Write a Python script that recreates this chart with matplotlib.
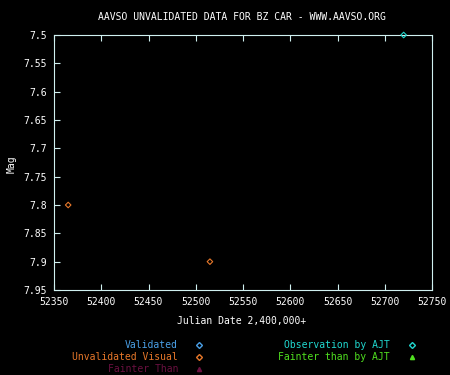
import matplotlib
matplotlib.use("Agg")
import matplotlib.pyplot as plt

unval_jd = [52365, 52515]
unval_mag = [7.8, 7.9]
ajt_jd = [52720]
ajt_mag = [7.5]

xticks = [52350, 52400, 52450, 52500, 52550, 52600, 52650, 52700, 52750]
yticks = [7.5, 7.55, 7.6, 7.65, 7.7, 7.75, 7.8, 7.85, 7.9, 7.95]

legend_left = ["Validated", "Unvalidated Visual", "Fainter Than"]
legend_left_colors = ["#4aa0e8", "#e8782a", "#6a1040"]
legend_left_markers = ["D", "D", "^"]
legend_right = ["Observation by AJT", "Fainter than by AJT"]
legend_right_colors = ["#20d8d0", "#50e020"]
legend_right_markers = ["D", "^"]

axis_col = "#d0f0f0"
font = "DejaVu Sans Mono"
fs = 7

fig = plt.figure(figsize=(4.5, 3.75), dpi=100, facecolor="black")
ax = fig.add_axes([54/450, 1-290/375, (432-54)/450, (290-35)/375])
ax.set_facecolor("black")

ax.scatter(unval_jd, unval_mag, marker="D", s=8, facecolors="none",
           edgecolors="#e8782a", linewidths=0.8)
ax.scatter(ajt_jd, ajt_mag, marker="D", s=8, facecolors="none",
           edgecolors="#20d8d0", linewidths=0.8, clip_on=False, zorder=5)

ax.set_xlim(52350, 52750)
ax.set_ylim(7.95, 7.5)
ax.set_xticks(xticks)
ax.set_yticks(yticks)
ax.set_xticklabels([str(t) for t in xticks], family=font, fontsize=fs, color="white")
ax.set_yticklabels(["%g" % t for t in yticks], family=font, fontsize=fs, color="white")
ax.tick_params(axis="both", direction="in", color=axis_col, length=4, width=0.8, pad=5)
ax.tick_params(axis="x", top=True)
for s in ax.spines.values():
    s.set_color(axis_col)
    s.set_linewidth(0.8)

fig.text(242/450, 1-17/375, "AAVSO UNVALIDATED DATA FOR BZ CAR - WWW.AAVSO.ORG",
         family=font, fontsize=fs, color="white", ha="center", va="center")
fig.text(12/450, 1-164/375, "Mag", family=font, fontsize=fs, color="white",
         rotation=90, ha="center", va="center")
fig.text(242/450, 1-321/375, "Julian Date 2,400,000+", family=font, fontsize=fs,
         color="white", ha="center", va="center")

rows = [345, 357, 369]
for i, lab in enumerate(legend_left):
    y = 1 - rows[i]/375
    fig.text(178/450, y, lab, family=font, fontsize=fs, color=legend_left_colors[i],
             ha="right", va="center")
    filled = legend_left_markers[i] == "^"
    fig.lines.append(plt.Line2D([199/450], [y], marker=legend_left_markers[i], markersize=3,
                                markerfacecolor=legend_left_colors[i] if filled else "none",
                                markeredgecolor=legend_left_colors[i],
                                transform=fig.transFigure))
for i, lab in enumerate(legend_right):
    y = 1 - rows[i]/375
    fig.text(390/450, y, lab, family=font, fontsize=fs, color=legend_right_colors[i],
             ha="right", va="center")
    filled = legend_right_markers[i] == "^"
    fig.lines.append(plt.Line2D([412/450], [y], marker=legend_right_markers[i], markersize=3,
                                markerfacecolor=legend_right_colors[i] if filled else "none",
                                markeredgecolor=legend_right_colors[i],
                                transform=fig.transFigure))

fig.savefig("out.png", dpi=100, facecolor="black")
